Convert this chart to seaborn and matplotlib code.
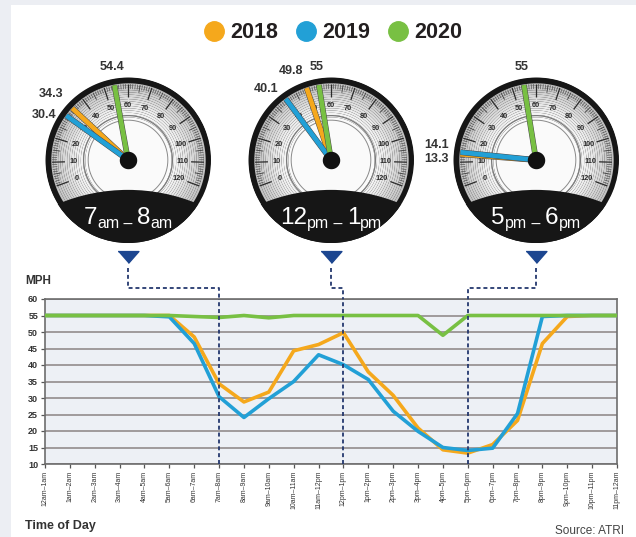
import numpy as np
import pandas as pd
import matplotlib
matplotlib.use("Agg")
import matplotlib.pyplot as plt
import seaborn as sns
from matplotlib.patches import Circle, Rectangle
from matplotlib.lines import Line2D
from matplotlib import font_manager
import matplotlib.patheffects as pe
import matplotlib.transforms as mtransforms

# ---------------- data ----------------
time_labels = ["12am–1am", "1am–2am", "2am–3am", "3am–4am", "4am–5am", "5am–6am",
               "6am–7am", "7am–8am", "8am–9am", "9am–10am", "10am–11am", "11am–12pm",
               "12pm–1pm", "1pm–2pm", "2pm–3pm", "3pm–4pm", "4pm–5pm", "5pm–6pm",
               "6pm–7pm", "7pm–8pm", "8pm–9pm", "9pm–10pm", "10pm–11pm", "11pm–12am"]
years = ["2018", "2019", "2020"]
mph_2018 = [55, 55, 55, 55, 55, 55, 48.5, 34.3, 28.8, 31.8, 44.3, 46.2,
            49.8, 37.9, 30.8, 20.9, 14.3, 13.3, 15.9, 23.2, 46.5, 54.7, 55, 55]
mph_2019 = [55, 55, 55, 55, 55, 54.6, 46.5, 30.4, 24.1, 29.8, 35.0, 43.1,
            40.1, 35.6, 26.0, 19.9, 15.0, 14.1, 14.8, 25.3, 54.7, 55, 55, 55]
mph_2020 = [55, 55, 55, 55, 55, 55, 54.7, 54.4, 55, 54.3, 55, 55,
            55, 55, 55, 55, 49.0, 55, 55, 55, 55, 55, 55, 55]
y_ticks = [10, 15, 20, 25, 30, 35, 40, 45, 50, 55, 60]

gauge_hours = [7, 12, 17]                      # index into time_labels
gauge_titles = [["7", "am", " – ", "8", "am"],
                ["12", "pm", " – ", "1", "pm"],
                ["5", "pm", " – ", "6", "pm"]]
gauge_2018 = [34.3, 49.8, 13.3]
gauge_2019 = [30.4, 40.1, 14.1]
gauge_2020 = [54.4, 55, 55]
gauge_scale = [0, 10, 20, 30, 40, 50, 60, 70, 80, 90, 100, 110, 120]

colors = ["#f5a81c", "#22a0d6", "#78c043"]

# ---------------- fonts ----------------
sns.set_style("white")
avail = {f.name for f in font_manager.fontManager.ttflist}
base_font = "Liberation Sans" if "Liberation Sans" in avail else "DejaVu Sans"
if "Liberation Sans Narrow" in avail:
    cond_kw = dict(family=["Liberation Sans Narrow", "DejaVu Sans"])
else:
    cond_kw = dict(family=[base_font, "DejaVu Sans"])
plt.rcParams["font.family"] = [base_font, "DejaVu Sans"]

W, H = 636, 537
fig = plt.figure(figsize=(W / 100, H / 100), dpi=100)
fig.patch.set_facecolor("#eceef3")
fig.add_artist(Rectangle((11 / W, 0), 1 - 11 / W, 1 - 5 / H, transform=fig.transFigure,
                         facecolor="white", edgecolor="none", zorder=-5))

def fx(px):
    return px / W

def fy(py):
    return 1 - py / H

# ---------------- line chart ----------------
ax = fig.add_axes([fx(45), fy(464), (617 - 45) / W, (464 - 299) / H])
ax.set_facecolor("#edf0f5")
df = pd.DataFrame({
    "hour": np.tile(np.arange(len(time_labels)), 3),
    "mph": mph_2018 + mph_2019 + mph_2020,
    "year": np.repeat(years, len(time_labels)),
})
sns.lineplot(data=df, x="hour", y="mph", hue="year", hue_order=years,
             palette=dict(zip(years, colors)), linewidth=2.6, legend=False, ax=ax, zorder=3)
ax.set_xlim(0, len(time_labels) - 1)
ax.set_ylim(y_ticks[0], y_ticks[-1])
ax.set_yticks(y_ticks)
ax.set_yticklabels([str(v) for v in y_ticks], fontsize=6.5, fontweight="bold", color="#333333")
ax.set_xticks(range(len(time_labels)))
ax.set_xticklabels(time_labels, rotation=90, fontsize=5, color="#333333", va="top", ha="center")
ax.set_xlabel("")
ax.set_ylabel("")
ax.grid(axis="y", color="#8a8383", lw=1.1)
ax.grid(axis="x", visible=False)
ax.set_axisbelow(True)
ax.tick_params(axis="x", length=3, width=0.9, color="#555555", pad=2, direction="out", bottom=True)
ax.tick_params(axis="y", length=3, width=0.9, color="#555555", pad=2, direction="out", left=True)
for s in ax.spines.values():
    s.set_color("#6d6d6d")
    s.set_linewidth(1.2)

# ---------------- gauges ----------------
def theta(v):
    return np.deg2rad(np.asarray(v, dtype=float) * 220.0 / 120.0)

def angle_deg(v):
    return 90 + (60 - v) * 220.0 / 120.0

gauge_centers = [(128, 160), (331, 160), (536, 160)]
GR = 83
tt = np.linspace(0, 2 * np.pi, 361)
face_cmap = matplotlib.colors.LinearSegmentedColormap.from_list(
    "face", ["#f7f7f7", "#ececec", "#d6d6d6", "#c2c2c2"])

gauge_axes = []
for gi, (cx, cy) in enumerate(gauge_centers):
    gax = fig.add_axes([fx(cx - GR), fy(cy + GR), 2 * GR / W, 2 * GR / H], projection="polar")
    gauge_axes.append(gax)
    gax.set_theta_direction(-1)
    gax.set_theta_offset(np.deg2rad(200))
    gax.set_axis_off()
    # outer black ring
    gax.fill_between(tt, 0, 1.0, color="#161616", lw=0, zorder=1)
    # face gradient
    edges = np.linspace(0.93, 0.52, 16)
    for k in range(len(edges) - 1):
        frac = (edges[k] - 0.52) / (0.93 - 0.52)
        gax.fill_between(tt, edges[k + 1], edges[k], color=face_cmap(frac), lw=0, zorder=1.1)
    gax.fill_between(tt, 0, 0.52, color="#fafafa", lw=0, zorder=1.2)
    # double inner circle
    gax.plot(tt, np.full_like(tt, 0.535), color="#7a7a7a", lw=0.9, zorder=1.5)
    gax.plot(tt, np.full_like(tt, 0.48), color="#8a8a8a", lw=0.7, zorder=1.5)
    # scale ticks
    vv = np.arange(0, 121)
    minor = vv[(vv % 5) != 0]
    mid = vv[((vv % 5) == 0) & ((vv % 10) != 0)]
    gax.vlines(theta(minor), 0.855, 0.915, color="#4a4a4a", lw=0.45, zorder=2)
    gax.vlines(theta(mid), 0.82, 0.915, color="#3a3a3a", lw=0.6, zorder=2)
    gax.vlines(theta(gauge_scale), 0.76, 0.915, color="#2a2a2a", lw=0.9, zorder=2)
    for v in gauge_scale:
        gax.text(theta(v), 0.655, str(v), ha="center", va="center", fontsize=5.3,
                 fontweight="bold", color="#2a2a2a", zorder=2)
    # bottom band
    band = Circle((0.5, -0.775), 1.095, transform=gax.transAxes, facecolor="#161616",
                  edgecolor="none", zorder=5)
    gax.add_patch(band)
    # needles
    vals = [gauge_2018[gi], gauge_2019[gi], gauge_2020[gi]]
    for v, c in zip(vals, colors):
        gax.plot([theta(v), theta(v)], [0, 0.915], color=c, lw=3.4, solid_capstyle="butt",
                 zorder=6, path_effects=[pe.Stroke(linewidth=4.1, foreground="#4a4a4a"), pe.Normal()])
    gax.fill_between(tt, 0, 0.105, color="#111111", lw=0, zorder=7)
    # value labels
    for v in vals:
        a = angle_deg(v)
        ha = "center" if abs(a - 90) < 12 else "right"
        if ha == "center" or a < 115:
            va = "bottom"
        else:
            va = "center"
            for o in vals:
                if o != v and abs(angle_deg(o) - a) < 12 and abs(angle_deg(o) - 90) >= 12:
                    va = "bottom" if v > o else "top"
        gax.text(theta(v), 1.06, f"{v:g}", ha=ha, va=va, fontsize=9, fontweight="bold",
                 color="#333333", zorder=8)
    gax.set_ylim(0, 1)

# band titles (chained pieces, centered afterwards)
BIG, SMALL = 17.5, 11.5
DESC = 0.21
title_chains = []
for gi, gax in enumerate(gauge_axes):
    parts = gauge_titles[gi]
    sizes = [BIG if p.strip().isdigit() else SMALL for p in parts]
    first = gax.text(0.25, 0.085, parts[0], transform=gax.transAxes, fontsize=sizes[0],
                     color="white", ha="left", va="bottom", zorder=9, **cond_kw)
    chain = [first]
    prev, prev_size = first, sizes[0]
    for p, s in zip(parts[1:], sizes[1:]):
        dy = DESC * (s - prev_size)
        a = gax.annotate(p, xy=(1, 0), xycoords=prev, xytext=(0, dy), textcoords="offset points",
                         ha="left", va="bottom", fontsize=s, color="white", zorder=9, **cond_kw)
        chain.append(a)
        prev, prev_size = a, s
    title_chains.append(chain)

fig.canvas.draw()
renderer = fig.canvas.get_renderer()
for gax, chain in zip(gauge_axes, title_chains):
    bbs = [t.get_window_extent(renderer) for t in chain]
    x0 = min(b.x0 for b in bbs)
    x1 = max(b.x1 for b in bbs)
    cxd = gax.transAxes.transform((0.5, 0.5))[0]
    wpx = gax.transAxes.transform((1, 0))[0] - gax.transAxes.transform((0, 0))[0]
    shift = (cxd - (x0 + x1) / 2) / wpx
    px, py = chain[0].get_position()
    chain[0].set_position((px + shift, py))

# ---------------- connectors & triangles ----------------
trans = mtransforms.blended_transform_factory(ax.transData, ax.transAxes)

def ay(py):
    return (464 - py) / (464 - 299)

for gi, h in enumerate(gauge_hours):
    gxd = gauge_axes[gi].transAxes.transform((0.5, 0.5))
    gx = ax.transData.inverted().transform(gxd)[0]
    ax.axvline(h, color="#24386e", lw=1.3, ls=(0, (2.2, 1.6)), zorder=4)
    ax.plot([gx, gx, h, h], [ay(268), ay(288), ay(288), 1.0], transform=trans, clip_on=False,
            color="#24386e", lw=1.3, ls=(0, (2.2, 1.6)), zorder=4)
    ax.plot([gx], [ay(257)], transform=trans, clip_on=False, ls="",
            marker=[(-1, 0.57), (1, 0.57), (0, -0.57)], ms=15, color="#1c4690", zorder=5)

# ---------------- legend & texts ----------------
handles = [Line2D([0], [0], marker="o", ls="", color=c, markersize=14) for c in colors]
fig.legend(handles, years, ncol=3, loc="center", bbox_to_anchor=(fx(333), fy(33)), frameon=False,
           prop=dict(weight="bold", size=15.5), handletextpad=0.25, columnspacing=0.8,
           handlelength=1.0, borderpad=0, labelcolor="#231f20")

fig.text(fx(25), fy(281), "MPH", ha="left", va="center", fontsize=8.5, fontweight="bold", color="#333333")
fig.text(fx(25), fy(526), "Time of Day", ha="left", va="center", fontsize=9, fontweight="bold", color="#333333")
fig.text(fx(555), fy(525), "Source: ATRI", ha="left", va="top", fontsize=8.5, color="#444444")

fig.savefig("out.png", dpi=100, facecolor=fig.get_facecolor())
